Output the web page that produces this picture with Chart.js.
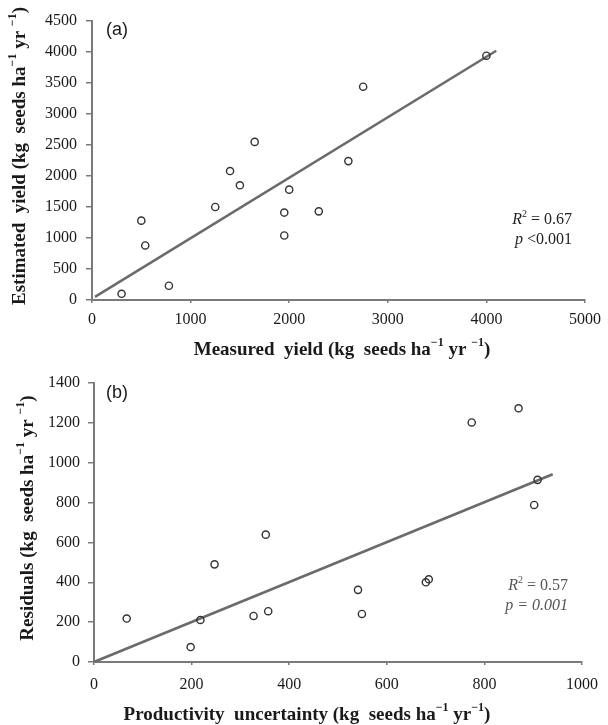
<!DOCTYPE html>
<html>
<head>
<meta charset="utf-8">
<script src="https://cdn.jsdelivr.net/npm/chart.js@4.4.1/dist/chart.umd.min.js"></script>
<style>
  body { margin: 0; background: #fff; }
  canvas { display: block; }
</style>
</head>
<body>
<canvas id="chartA" width="608" height="362"></canvas>
<canvas id="chartB" width="608" height="363"></canvas>
<script>
// (a) measured vs estimated yield
const measuredYield  = [300, 500, 540, 780, 1250, 1400, 1500, 1650, 1950, 1950, 2000, 2300, 2600, 2750, 4000];
const estimatedYield = [100, 1280, 880, 230, 1500, 2080, 1850, 2550, 1410, 1040, 1780, 1430, 2240, 3440, 3940];
const fitAX = [30, 4100];
const fitAY = [50, 4020];

// (b) productivity uncertainty vs residuals
const uncertainty = [67, 198, 218, 247, 327, 352, 357, 541, 549, 680, 686, 774, 870, 902, 909];
const residuals   = [218, 75, 211, 490, 231, 639, 255, 362, 241, 400, 415, 1202, 1273, 788, 914];
const fitBX = [0, 940];
const fitBY = [0, 942];

const yTicksA = [0, 4500, 500];
const xTicksA = [0, 5000, 1000];
const yTicksB = [0, 1400, 200];
const xTicksB = [0, 1000, 200];

const SERIF = "'Liberation Serif', 'Times New Roman', serif";
const AXIS_COL = '#7a7a7a';

function pts(xs, ys) {
  return xs.map((x, i) => ({ x: x, y: ys[i] }));
}

// draws text with superscript pieces, e.g. ha^-1
function drawRich(ctx, segs, x, y, size, weight, align) {
  const supSize = Math.round(size * 0.62);
  let w = 0;
  segs.forEach(s => {
    ctx.font = (s.it ? 'italic ' : '') + weight + ' ' + (s.sup ? supSize : size) + 'px ' + SERIF;
    s.w = ctx.measureText(s.t).width;
    w += s.w;
  });
  let cx = align === 'center' ? x - w / 2 : (align === 'right' ? x - w : x);
  ctx.textAlign = 'left';
  ctx.textBaseline = 'middle';
  segs.forEach(s => {
    ctx.font = (s.it ? 'italic ' : '') + weight + ' ' + (s.sup ? supSize : size) + 'px ' + SERIF;
    ctx.fillText(s.t, cx, s.sup ? y - size * 0.36 : y);
    cx += s.w;
  });
}

const labelsPlugin = {
  id: 'panelText',
  afterDraw(chart, args, o) {
    const ctx = chart.ctx;
    ctx.save();
    ctx.fillStyle = '#1a1a1a';
    // panel letter
    ctx.font = "18px 'Liberation Sans', Arial, sans-serif";
    ctx.textAlign = 'left';
    ctx.textBaseline = 'middle';
    ctx.fillText(o.panel, o.panelX, o.panelY);
    // x axis title
    drawRich(ctx, o.xTitle, o.xTitleX, o.xTitleY, 19, 'bold', 'center');
    // y axis title
    ctx.save();
    ctx.translate(o.yTitleX, o.yTitleY);
    ctx.rotate(-Math.PI / 2);
    drawRich(ctx, o.yTitle, 0, 0, 19, 'bold', 'center');
    ctx.restore();
    // statistics
    ctx.fillStyle = o.statCol;
    drawRich(ctx, o.stat1, o.statX, o.statY, 16, 'normal', 'right');
    drawRich(ctx, o.stat2, o.statX, o.statY + 20, 16, 'normal', 'right');
    ctx.restore();
  }
};

function axis(range, isY, width, pad) {
  return {
    type: 'linear',
    min: range[0],
    max: range[1],
    afterFit: s => { if (isY) s.width = width; else s.height = width; },
    border: { display: true, color: AXIS_COL, width: 2 },
    grid: {
      display: true,
      drawOnChartArea: false,
      drawTicks: true,
      tickLength: isY ? 6 : 3,
      color: AXIS_COL,
      lineWidth: 1.5
    },
    ticks: {
      stepSize: range[2],
      padding: pad,
      color: '#1a1a1a',
      font: { family: SERIF, size: 16 },
      maxRotation: 0,
      autoSkip: false,
      callback: v => String(v)
    }
  };
}

function makeChart(id, xs, ys, fx, fy, xr, yr, yw, xh, ypad, xpad, pad, text) {
  return new Chart(document.getElementById(id), {
    type: 'scatter',
    data: {
      datasets: [
        {
          data: pts(xs, ys),
          pointRadius: 3.6,
          pointBorderWidth: 1.4,
          pointBorderColor: '#333',
          pointBackgroundColor: 'rgba(255,255,255,0)',
          order: 1
        },
        {
          type: 'line',
          data: pts(fx, fy),
          borderColor: '#6b6b6b',
          borderWidth: 2.6,
          pointRadius: 0,
          fill: false,
          order: 2
        }
      ]
    },
    options: {
      responsive: false,
      animation: false,
      layout: { padding: pad },
      plugins: {
        legend: { display: false },
        tooltip: { enabled: false },
        panelText: text
      },
      scales: {
        x: axis(xr, false, xh, xpad),
        y: axis(yr, true, yw, ypad)
      }
    },
    plugins: [labelsPlugin]
  });
}

const M = '\u22121';

makeChart('chartA', measuredYield, estimatedYield, fitAX, fitAY, xTicksA, yTicksA,
  92, 62, 9, 7, { top: 21, right: 19, left: 0, bottom: 0 }, {
    panel: '(a)', panelX: 106, panelY: 30,
    xTitle: [{ t: 'Measured  yield (kg  seeds ha' }, { t: M, sup: true }, { t: ' yr ' }, { t: M, sup: true }, { t: ')' }],
    xTitleX: 342, xTitleY: 350,
    yTitle: [{ t: 'Estimated  yield (kg  seeds ha' }, { t: M, sup: true }, { t: ' yr ' }, { t: M, sup: true }, { t: ')' }],
    yTitleX: 20, yTitleY: 156,
    statCol: '#222', statX: 572, statY: 220,
    stat1: [{ t: 'R', it: true }, { t: '2', sup: true }, { t: ' = 0.67' }],
    stat2: [{ t: 'p', it: true }, { t: ' <0.001' }]
  });

makeChart('chartB', uncertainty, residuals, fitBX, fitBY, xTicksB, yTicksB,
  94, 63, 8, 10, { top: 21, right: 25, left: 0, bottom: 0 }, {
    panel: '(b)', panelX: 106, panelY: 31,
    xTitle: [{ t: 'Productivity  uncertainty (kg  seeds ha' }, { t: M, sup: true }, { t: ' yr' }, { t: M, sup: true }, { t: ')' }],
    xTitleX: 307, xTitleY: 353,
    yTitle: [{ t: 'Residuals (kg  seeds ha' }, { t: M, sup: true }, { t: ' yr ' }, { t: M, sup: true }, { t: ')' }],
    yTitleX: 28, yTitleY: 156,
    statCol: '#555', statX: 568, statY: 224,
    stat1: [{ t: 'R', it: true }, { t: '2', sup: true }, { t: ' = 0.57' }],
    stat2: [{ t: 'p', it: true }, { t: ' = 0.001', it: true }]
  });
</script>
</body>
</html>
